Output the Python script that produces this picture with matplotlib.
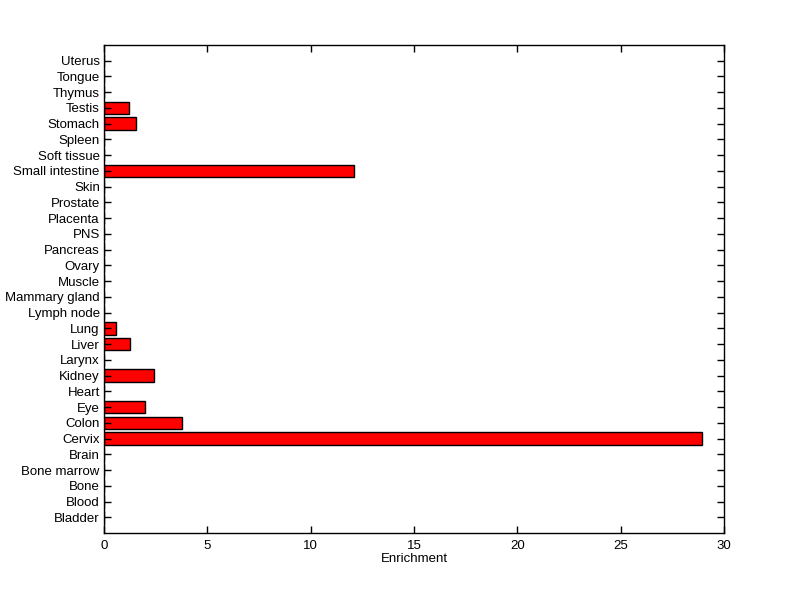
import numpy as np
import matplotlib
matplotlib.use("Agg")
import matplotlib.pyplot as plt

plt.rcParams['font.family'] = ['Liberation Sans', 'DejaVu Sans']

# tissue categories, bottom to top
tissues = ["Bladder", "Blood", "Bone", "Bone marrow", "Brain", "Cervix", "Colon",
           "Eye", "Heart", "Kidney", "Larynx", "Liver", "Lung", "Lymph node",
           "Mammary gland", "Muscle", "Ovary", "Pancreas", "PNS", "Placenta",
           "Prostate", "Skin", "Small intestine", "Soft tissue", "Spleen",
           "Stomach", "Testis", "Thymus", "Tongue", "Uterus"]
enrichment = [0, 0, 0, 0, 0, 28.92, 3.78, 1.99, 0, 2.42, 0, 1.26, 0.58, 0,
              0, 0, 0, 0, 0, 0, 0, 0, 12.12, 0, 0, 1.55, 1.21, 0, 0, 0]
xticks = [0, 5, 10, 15, 20, 25, 30]

fig = plt.figure(figsize=(8, 5.99), dpi=100)
ax = fig.add_axes([0.13, 0.11, 0.775, 0.815])

pos = np.arange(1, len(tissues) + 1)
ax.barh(pos, enrichment, height=0.8, color='#ff0000', edgecolor='black', linewidth=1)

ax.set_xlim(0, 30)
ax.set_ylim(0, len(tissues) + 1)
ax.set_xticks(xticks)
ax.set_yticks(pos)
ax.set_yticklabels(tissues)
ax.set_xlabel("Enrichment", fontsize=9.5, labelpad=1)

ax.tick_params(direction='in', length=5, width=1, labelsize=9.5,
               top=True, right=True, pad=3)
ax.tick_params(axis='x', pad=5)
for s in ax.spines.values():
    s.set_linewidth(1)

fig.savefig("out.png", dpi=100)
